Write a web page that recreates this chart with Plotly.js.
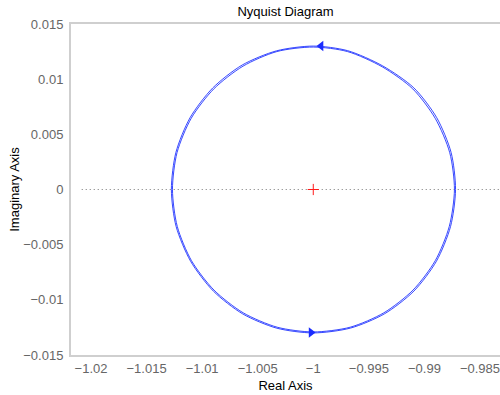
<!DOCTYPE html>
<html>
<head>
<meta charset="utf-8">
<script src="https://cdn.plot.ly/plotly-3.0.1.min.js"></script>
<style>html,body{margin:0;padding:0;background:#fff;}#chart{width:500px;height:395px;}</style>
</head>
<body>
<div id="chart"></div>
<script>
// Branch 1 (counter-clockwise loop)
const branch1Re = [-0.98720, -0.98760, -0.98890, -0.99095, -0.99375, -0.99690, -1.00000, -1.00330, -1.00640, -1.00905, -1.01108, -1.01236, -1.01277,
                   -1.01234, -1.01104, -1.00900, -1.00636, -1.00328, -1.00000, -0.99665, -0.99358, -0.99094, -0.98892, -0.98765, -0.98720];
const branch1Im = [0.00000, 0.00336, 0.00652, 0.00921, 0.01120, 0.01258, 0.01300, 0.01257, 0.01128, 0.00920, 0.00652, 0.00337, 0.00000,
                   -0.00336, -0.00650, -0.00920, -0.01127, -0.01257, -0.01300, -0.01256, -0.01126, -0.00920, -0.00650, -0.00336, 0.00000];
// Branch 2 (nearly coincident mirror branch)
const branch2Re = [-0.98730, -0.98772, -0.98903, -0.99105, -0.99380, -0.99692, -1.00000, -1.00328, -1.00632, -1.00895, -1.01098, -1.01226, -1.01267,
                   -1.01224, -1.01096, -1.00893, -1.00630, -1.00325, -1.00000, -0.99668, -0.99366, -0.99103, -0.98902, -0.98776, -0.98730];
const branch2Im = [0.00000, 0.00333, 0.00645, 0.00912, 0.01112, 0.01250, 0.01291, 0.01250, 0.01118, 0.00912, 0.00646, 0.00334, 0.00000,
                   -0.00334, -0.00645, -0.00912, -0.01118, -0.01248, -0.01291, -0.01248, -0.01118, -0.00912, -0.00644, -0.00333, 0.00000];
// Direction arrows
const arrowRe = [-0.99930, -1.00020];
const arrowIm = [0.01300, -0.01296];
const arrowSymbols = ['triangle-left', 'triangle-right'];
// Critical point
const critRe = [-1];
const critIm = [0];

const xTickVals = [-1.02, -1.015, -1.01, -1.005, -1, -0.995, -0.99, -0.985];
const xTickText = ['\u22121.02', '\u22121.015', '\u22121.01', '\u22121.005', '\u22121', '\u22120.995', '\u22120.99', '\u22120.985'];
const yTickVals = [0.015, 0.01, 0.005, 0, -0.005, -0.01, -0.015];
const yTickText = ['0.015', '0.01', '0.005', '0', '\u22120.005', '\u22120.01', '\u22120.015'];

const blue = 'rgba(20,40,255,0.85)';
const traces = [
  {x: branch1Re, y: branch1Im, mode: 'lines', line: {color: blue, width: 1, shape: 'spline', smoothing: 0.8}, hoverinfo: 'skip'},
  {x: branch2Re, y: branch2Im, mode: 'lines', line: {color: blue, width: 1, shape: 'spline', smoothing: 0.8}, hoverinfo: 'skip'},
  {x: arrowRe, y: arrowIm, mode: 'markers', marker: {symbol: arrowSymbols, size: 9, color: '#1a2cff'}, hoverinfo: 'skip'},
  {x: critRe, y: critIm, mode: 'markers', marker: {symbol: 'cross-thin', size: 8, color: '#ff1a1a', line: {color: '#ff1a1a', width: 1}}, hoverinfo: 'skip'}
];

const layout = {
  width: 500, height: 395,
  margin: {l: 71, r: 0, t: 24, b: 40},
  paper_bgcolor: '#fff', plot_bgcolor: '#fff',
  showlegend: false,
  font: {family: 'Liberation Sans, Arial, sans-serif', size: 13, color: '#000'},
  title: {text: 'Nyquist Diagram', x: 0.571, xanchor: 'center', y: 0.972, yanchor: 'middle', font: {size: 13, color: '#000'}},
  xaxis: {
    range: [-1.0218, -0.9832], tickvals: xTickVals, ticktext: xTickText,
    showgrid: false, zeroline: false, showline: true, mirror: true, linecolor: '#cfcfcf', linewidth: 2,
    ticks: '', tickfont: {size: 13, color: '#666'}, ticklabeloverflow: 'allow',
    title: {text: 'Real Axis', standoff: 6, font: {size: 13, color: '#000'}}
  },
  yaxis: {
    range: [-0.015, 0.015], tickvals: yTickVals, ticktext: yTickText,
    showgrid: false, zeroline: false, showline: true, mirror: true, linecolor: '#cfcfcf', linewidth: 2,
    ticks: '', tickfont: {size: 13, color: '#666'}, ticklabelstandoff: 3,
    title: {text: 'Imaginary Axis', standoff: 1, font: {size: 13, color: '#000'}}
  },
  shapes: [
    {type: 'line', xref: 'paper', yref: 'y', x0: 0.025, x1: 1, y0: 0, y1: 0, line: {color: '#777', width: 1, dash: '1px,3px'}, layer: 'below'}
  ]
};

Plotly.newPlot('chart', traces, layout, {staticPlot: true, displayModeBar: false});
</script>
</body>
</html>
